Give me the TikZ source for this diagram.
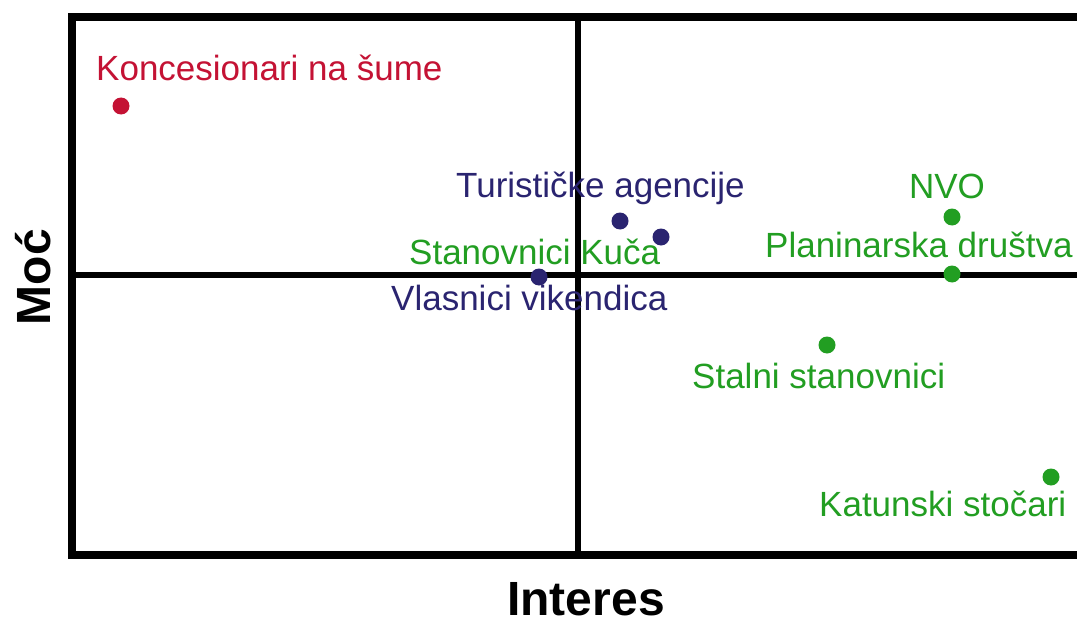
\documentclass[tikz,border=0pt]{standalone}
\usepackage{fontspec}
\setmainfont{Liberation Sans}
\definecolor{kred}{RGB}{196,18,52}
\definecolor{knavy}{RGB}{42,36,112}
\definecolor{kgreen}{RGB}{34,158,34}
\tikzset{
  frameline/.style={line width=7.5pt, line cap=rect},
  axisline/.style={line width=6pt},
  dot/.style={circle, fill=#1, inner sep=0pt, minimum size=17pt},
  lbl/.style={text=#1, inner sep=0pt, anchor=base west, font=\fontsize{35}{40}\selectfont},
  axlbl/.style={inner sep=0pt, font=\fontsize{48}{54}\selectfont\bfseries}
}
\begin{document}
\begin{tikzpicture}[x=1pt,y=-1pt]
\useasboundingbox (0,0) rectangle (1077,626);
\fill[white] (0,0) rectangle (1077,626);
% frame and quadrant lines
\coordinate (tr) at (1077,17);
\coordinate (tl) at (72,17);
\coordinate (bl) at (72,555);
\coordinate (br) at (1077,555);
\coordinate (vt) at (578,17);
\coordinate (vb) at (578,555);
\coordinate (hl) at (72,275);
\coordinate (hr) at (1077,275);
\draw[frameline] (tr) -- (tl) -- (bl) -- (br);
\draw[axisline] (vt) -- (vb);
\draw[axisline] (hl) -- (hr);
% points
\node[dot=kred] (p1) at (121,106) {};
\node[dot=knavy] (p2) at (620,221) {};
\node[dot=knavy] (p3) at (661,237) {};
\node[dot=knavy] (p4) at (539,277) {};
\node[dot=kgreen] (p5) at (952,217) {};
\node[dot=kgreen] (p6) at (952,274) {};
\node[dot=kgreen] (p7) at (827,345) {};
\node[dot=kgreen] (p8) at (1051,477) {};
% labels
\node[lbl=kred] (l1) at (96,81) {Koncesionari na šume};
\node[lbl=knavy] (l2) at (456,197) {Turističke agencije};
\node[lbl=kgreen] (l3) at (409,264) {Stanovnici Kuča};
\node[lbl=knavy] (l4) at (391,310) {Vlasnici vikendica};
\node[lbl=kgreen, anchor=base] (l5) at (947,198) {NVO};
\node[lbl=kgreen] (l6) at (765,257) {Planinarska društva};
\node[lbl=kgreen] (l7) at (692,388) {Stalni stanovnici};
\node[lbl=kgreen] (l8) at (819,516) {Katunski stočari};
% axis titles
\node[axlbl, rotate=90] (moc) at (33,277) {Moć};
\node[axlbl, anchor=base] (int) at (586,615) {Interes};
\end{tikzpicture}
\end{document}
